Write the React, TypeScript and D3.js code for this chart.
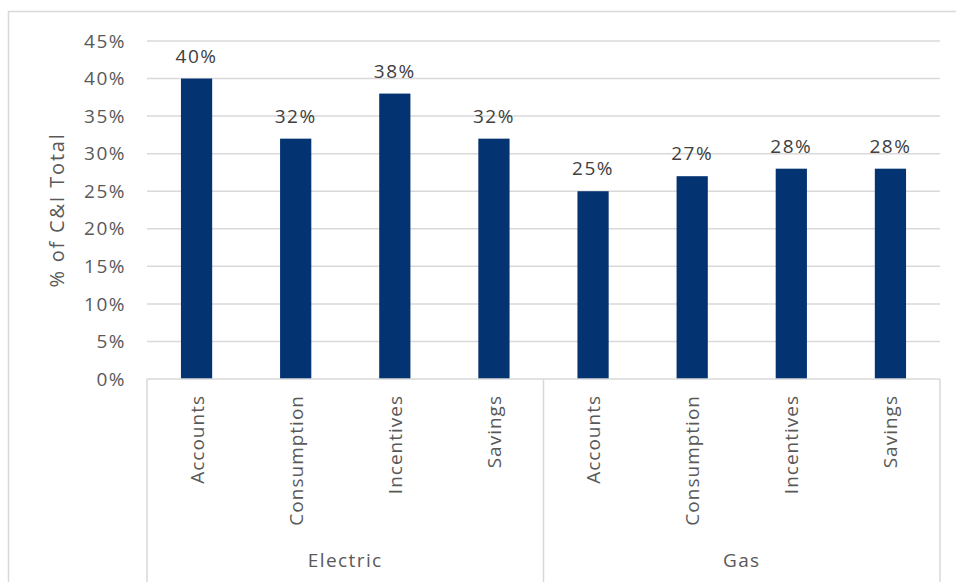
import React from "react";
import * as d3 from "d3";

const groups = ["Electric", "Gas"];
const subCategories = ["Accounts", "Consumption", "Incentives", "Savings"];
const electricValues = [40, 32, 38, 32];
const gasValues = [25, 27, 28, 28];
const yTicks = [0, 5, 10, 15, 20, 25, 30, 35, 40, 45];
const yTitle = "% of C&I Total";

const W = 956;
const H = 582;
const FONT = "'Open Sans', 'Liberation Sans', sans-serif";

export default function App() {
  const left = 147, right = 940, top = 41, bottom = 379;
  const rows = groups.flatMap((g, gi) =>
    subCategories.map((c, ci) => ({
      key: g + "|" + c,
      group: g,
      cat: c,
      value: (gi === 0 ? electricValues : gasValues)[ci],
    }))
  );
  const x = d3.scaleBand<string>().domain(rows.map((r) => r.key)).range([left, right]).paddingInner(0.685).paddingOuter(0.3425);
  const xOuter = d3.scaleBand<string>().domain(rows.map((r) => r.key)).range([left, right]);
  const y = d3.scaleLinear().domain([0, 45]).range([bottom, top]);
  const gridColor = "#d9d9d9";
  const textColor = "#595959";

  const groupWidth = (right - left) / groups.length;

  return (
    <svg width={W} height={H} style={{ position: "absolute", left: 0, top: 0, background: "#fff" }} fontFamily={FONT}>
      <rect x={8.5} y={11.5} width={1000} height={700} fill="#fff" stroke={gridColor} strokeWidth={1.5} />
      {yTicks.map((t) => (
        <g key={t}>
          {t > 0 && <line x1={left} x2={right} y1={y(t)} y2={y(t)} stroke={gridColor} strokeWidth={1.5} />}
          <text x={126} y={y(t)} dy="0.35em" textAnchor="end" fontSize={19} fill={textColor} letterSpacing={1.5}>
            {t}%
          </text>
        </g>
      ))}
      <text
        transform={`translate(64,${(top + bottom) / 2}) rotate(-90)`}
        textAnchor="middle"
        fontSize={20}
        fill={textColor}
        letterSpacing={1.8}
      >
        {yTitle}
      </text>
      {rows.map((r) => (
        <g key={r.key}>
          <rect x={x(r.key)} y={y(r.value)} width={x.bandwidth()} height={bottom - y(r.value)} fill="#033370" />
          <text
            x={(x(r.key) as number) + x.bandwidth() / 2}
            y={y(r.value) - 16}
            textAnchor="middle"
            fontSize={19}
            fill="#404040"
            letterSpacing={1.5}
          >
            {r.value}%
          </text>
          <text
            transform={`translate(${(xOuter(r.key) as number) + xOuter.bandwidth() / 2 + 7},395) rotate(-90)`}
            textAnchor="end"
            fontSize={19}
            fill={textColor}
            letterSpacing={1}
          >
            {r.cat}
          </text>
        </g>
      ))}
      <line x1={left} x2={right} y1={bottom} y2={bottom} stroke={gridColor} strokeWidth={1.5} />
      {d3.range(groups.length + 1).map((i) => (
        <line key={i} x1={left + i * groupWidth} x2={left + i * groupWidth} y1={bottom} y2={H} stroke={gridColor} strokeWidth={1.5} />
      ))}
      {groups.map((g, i) => (
        <text key={g} x={left + (i + 0.5) * groupWidth} y={567} textAnchor="middle" fontSize={19} fill={textColor} letterSpacing={1.4}>
          {g}
        </text>
      ))}
    </svg>
  );
}
